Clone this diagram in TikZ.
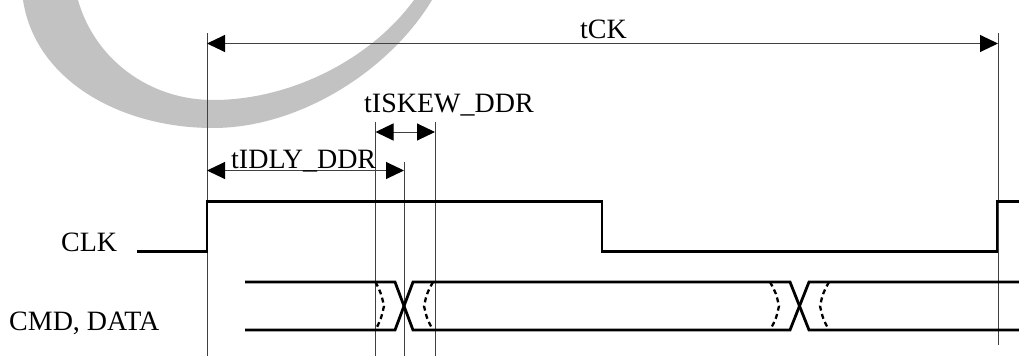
\documentclass[tikz,border=0pt]{standalone}
\usepackage{fontspec}
\setmainfont{Liberation Serif}
\usetikzlibrary{arrows.meta}
\begin{document}
\begin{tikzpicture}[x=1pt,y=-1pt,
  thin line/.style={line width=1pt,draw=black!75},
  signal/.style={line width=2.8pt,draw=black},
  dimarrow/.style={thin line,{Triangle[length=18pt,width=17pt,color=black,fill=black]}-{Triangle[length=18pt,width=17pt,color=black,fill=black]}},
  skewdash/.style={line width=2.3pt,dash pattern=on 5pt off 3.5pt},
  lbl/.style={anchor=base west,inner sep=0pt,font=\fontsize{28}{33}\selectfont},
  watermark/.style={fill=black!24,draw=none}]
\useasboundingbox (0,0) rectangle (1019,356);
% watermark arc
\fill[watermark] (23,0) .. controls (35,80) and (120,128) .. (213,128)
  .. controls (300,128) and (390,70) .. (432,0) -- (414,0)
  .. controls (370,60) and (290,100) .. (213,100)
  .. controls (150,100) and (95,60) .. (78,0) -- cycle;
% reference coordinates
\coordinate (e0t) at (207,33);   \coordinate (e0b) at (207,356);
\coordinate (e1t) at (998,33);   \coordinate (e1b) at (998,345);
\coordinate (s0t) at (375.5,122); \coordinate (s0b) at (375.5,356);
\coordinate (d0t) at (404,162);  \coordinate (d0b) at (404,356);
\coordinate (s1t) at (435,122);  \coordinate (s1b) at (435,356);
% vertical guide lines
\draw[thin line] (e0t) -- (e0b);
\draw[thin line] (e1t) -- (e1b);
\draw[thin line] (s0t) -- (s0b);
\draw[thin line] (d0t) -- (d0b);
\draw[thin line] (s1t) -- (s1b);
% dimension arrows
\coordinate (ckL) at (207,43.5); \coordinate (ckR) at (998,43.5);
\coordinate (skL) at (375.5,132); \coordinate (skR) at (435,132);
\coordinate (dlL) at (207,170.5); \coordinate (dlR) at (404,170.5);
\draw[dimarrow] (ckL) -- (ckR);
\draw[dimarrow] (skL) -- (skR);
\draw[dimarrow] (dlL) -- (dlR);
% labels
\node[lbl] (tck) at (580,38) {tCK};
\node[lbl] (tskew) at (364,112) {tISKEW\_DDR};
\node[lbl] (tidly) at (231,168) {tIDLY\_DDR};
\node[lbl] (clk) at (61,251) {CLK};
\node[lbl] (cmd) at (9,330) {CMD, DATA};
% CLK waveform
\draw[signal] (137,251.7) -- (207,251.7) -- (207,201.7) -- (602,201.7) -- (602,251.7)
  -- (997,251.7) -- (997,201.7) -- (1019,201.7);
% data waveform
\draw[signal] (245,282) -- (395,282) -- (413,330) -- (790,330) -- (809,282) -- (1019,282);
\draw[signal] (245,330) -- (395,330) -- (413,282) -- (790,282) -- (809,330) -- (1019,330);
% skew uncertainty dashes
\draw[skewdash] (375.5,282) .. controls (381,293) .. (384,306) .. controls (381,319) .. (375.5,330);
\draw[skewdash] (433,282) .. controls (427,293) .. (424,306) .. controls (427,319) .. (433,330);
\draw[skewdash] (770,282) .. controls (776,293) .. (779,306) .. controls (776,319) .. (770,330);
\draw[skewdash] (829,282) .. controls (823,293) .. (820,306) .. controls (823,319) .. (829,330);
\end{tikzpicture}
\end{document}
